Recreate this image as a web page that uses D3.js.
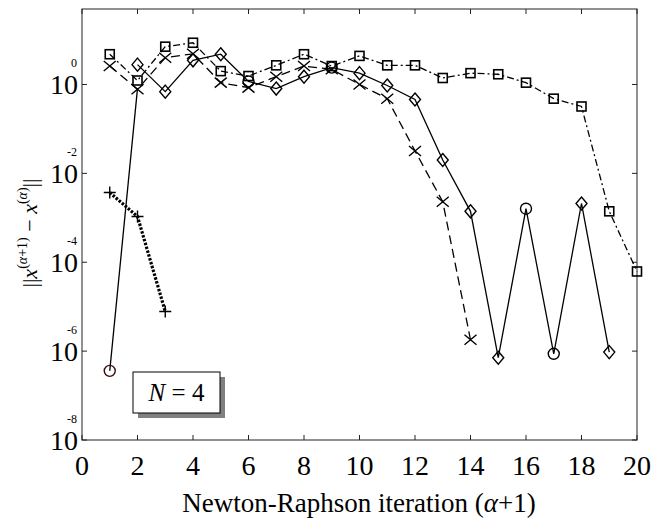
<!DOCTYPE html>
<html>
<head>
<meta charset="utf-8">
<script src="https://cdn.jsdelivr.net/npm/d3@7"></script>
<style>
  body { margin: 0; background: white; }
  text { font-family: "Liberation Serif", "Times New Roman", serif; fill: black; }
</style>
</head>
<body>
<svg width="657" height="522"></svg>
<script>
// residual norm per Newton-Raphson iteration, one array per run
const sqIter = d3.range(1, 21);
const sqVals = [4.8, 1.23, 7.1, 8.7, 2.0, 1.55, 2.7, 4.8, 2.6, 4.4,
                2.7, 2.7, 1.4, 1.8, 1.7, 1.1, 0.48, 0.32, 1.4e-3, 6.2e-5];

const xIter = d3.range(1, 15);
const xVals = [2.6, 0.78, 4.0, 4.9, 1.1, 0.85, 1.5, 2.6, 2.2, 1.0,
               0.48, 3.2e-2, 2.3e-3, 1.8e-6];

const dIter = d3.range(2, 20);
const dVals = [2.8, 0.69, 3.5, 4.8, 1.17, 0.81, 1.5, 2.4, 1.8, 0.95,
               0.46, 2.0e-2, 1.4e-3, 7.1e-7, 1.6e-3, 8.7e-7, 2.1e-3, 9.5e-7];
const dMarks = ["d", "d", "d", "d", "o", "d", "d", "o", "d", "d",
                "d", "d", "d", "d", "o", "o", "d", "d"];

const oIter = [1, 2];
const oVals = [3.6e-7, 0.82];
const oMarks = ["o", null];

const pIter = [1, 2, 3];
const pVals = [3.7e-3, 1.07e-3, 7.8e-6];

const xTicks = d3.range(0, 21, 2);
const yExps = [0, -2, -4, -6, -8];

const svg = d3.select("svg");
const L = 82, R = 637, T = 9, B = 440;

const x = d3.scaleLinear().domain([0, 20]).range([L, R]);
const y = d3.scaleLog().domain([1e-8, 50]).range([B, T]);

// frame + inward ticks on all sides
svg.append("rect")
    .attr("x", L).attr("y", T).attr("width", R - L).attr("height", B - T)
    .attr("fill", "none").attr("stroke", "#222").attr("stroke-width", 1);

const tk = 5;
xTicks.forEach(t => {
    svg.append("line").attr("x1", x(t)).attr("x2", x(t)).attr("y1", B).attr("y2", B - tk)
        .attr("stroke", "#222");
    svg.append("line").attr("x1", x(t)).attr("x2", x(t)).attr("y1", T).attr("y2", T + tk)
        .attr("stroke", "#222");
    svg.append("text").attr("x", x(t)).attr("y", B + 35)
        .attr("text-anchor", "middle").attr("font-size", 28).text(t);
});
yExps.forEach(e => {
    const yy = y(Math.pow(10, e));
    svg.append("line").attr("x1", L).attr("x2", L + tk).attr("y1", yy).attr("y2", yy)
        .attr("stroke", "#222");
    svg.append("line").attr("x1", R).attr("x2", R - tk).attr("y1", yy).attr("y2", yy)
        .attr("stroke", "#222");
    svg.append("text").attr("x", L - 4).attr("y", yy + 10)
        .attr("text-anchor", "end").attr("font-size", 28).text("10");
    svg.append("text").attr("x", L - 5).attr("y", yy - 17.5)
        .attr("text-anchor", "end").attr("font-size", 12).text(e);
});

// markers
function marker(g, kind, cx, cy, col) {
    if (kind === "s") {
        g.append("rect").attr("x", cx - 4.5).attr("y", cy - 4.5).attr("width", 9).attr("height", 9)
            .attr("fill", "none").attr("stroke", col).attr("stroke-width", 1.6);
    } else if (kind === "d") {
        g.append("path").attr("d", `M${cx},${cy - 6.5}L${cx + 5.5},${cy}L${cx},${cy + 6.5}L${cx - 5.5},${cy}Z`)
            .attr("fill", "none").attr("stroke", col).attr("stroke-width", 1.4);
    } else if (kind === "o") {
        g.append("circle").attr("cx", cx).attr("cy", cy).attr("r", 5.5)
            .attr("fill", "none").attr("stroke", col).attr("stroke-width", 1.4);
    } else if (kind === "x") {
        g.append("path").attr("d", `M${cx - 6},${cy - 5}L${cx + 6},${cy + 5}M${cx - 6},${cy + 5}L${cx + 6},${cy - 5}`)
            .attr("stroke", col).attr("stroke-width", 1.4);
    } else if (kind === "+") {
        g.append("path").attr("d", `M${cx - 6},${cy}L${cx + 6},${cy}M${cx},${cy - 6}L${cx},${cy + 6}`)
            .attr("stroke", col).attr("stroke-width", 1.4);
    }
}

const line = d3.line().x(d => x(d[0])).y(d => y(d[1]));

function series(iters, vals, marks, dash, width, col) {
    const pts = iters.map((t, i) => [t, vals[i]]);
    const g = svg.append("g");
    g.append("path").attr("d", line(pts))
        .attr("fill", "none").attr("stroke", "black")
        .attr("stroke-width", width).attr("stroke-dasharray", dash);
    pts.forEach((p, i) => {
        const m = typeof marks === "string" ? marks : marks[i];
        if (m) marker(g, m, x(p[0]), y(p[1]), col || "black");
    });
}

series(sqIter, sqVals, "s", "7,3,2,3", 1.3);
series(xIter, xVals, "x", "9,5", 1.3);
series(dIter, dVals, dMarks, null, 1.3);
series(oIter, oVals, oMarks, null, 1.3, "#3a0a0a");
series(pIter, pVals, "+", "2.5,1.5", 3.2);

// N = 4 box with shadow
const bx = 133, by = 372, bw = 87, bh = 41;
svg.append("rect").attr("x", bx + 5).attr("y", by + 5).attr("width", bw).attr("height", bh)
    .attr("fill", "#808080");
svg.append("rect").attr("x", bx).attr("y", by).attr("width", bw).attr("height", bh)
    .attr("fill", "white").attr("stroke", "black").attr("stroke-width", 1);
const nt = svg.append("text").attr("x", bx + bw / 2).attr("y", by + 29)
    .attr("text-anchor", "middle").attr("font-size", 25);
nt.append("tspan").attr("font-style", "italic").text("N");
nt.append("tspan").text(" = 4");

// axis titles
const xl = svg.append("text").attr("x", 359).attr("y", 512)
    .attr("text-anchor", "middle").attr("font-size", 27);
xl.append("tspan").text("Newton-Raphson iteration (");
xl.append("tspan").attr("font-style", "italic").text("α");
xl.append("tspan").text("+1)");

const yl = svg.append("text")
    .attr("transform", "translate(37,233) rotate(-90)")
    .attr("text-anchor", "middle").attr("font-size", 22);
yl.append("tspan").text("||");
yl.append("tspan").attr("font-style", "italic").text("x");
yl.append("tspan").attr("font-size", 14).attr("dy", -10).text("(");
yl.append("tspan").attr("font-size", 14).attr("font-style", "italic").text("α");
yl.append("tspan").attr("font-size", 14).text("+1)");
yl.append("tspan").attr("dy", 10).text(" − ");
yl.append("tspan").attr("font-style", "italic").text("x");
yl.append("tspan").attr("font-size", 14).attr("dy", -10).text("(");
yl.append("tspan").attr("font-size", 14).attr("font-style", "italic").text("α");
yl.append("tspan").attr("font-size", 14).text(")");
yl.append("tspan").attr("dy", 10).text("||");
</script>
</body>
</html>
